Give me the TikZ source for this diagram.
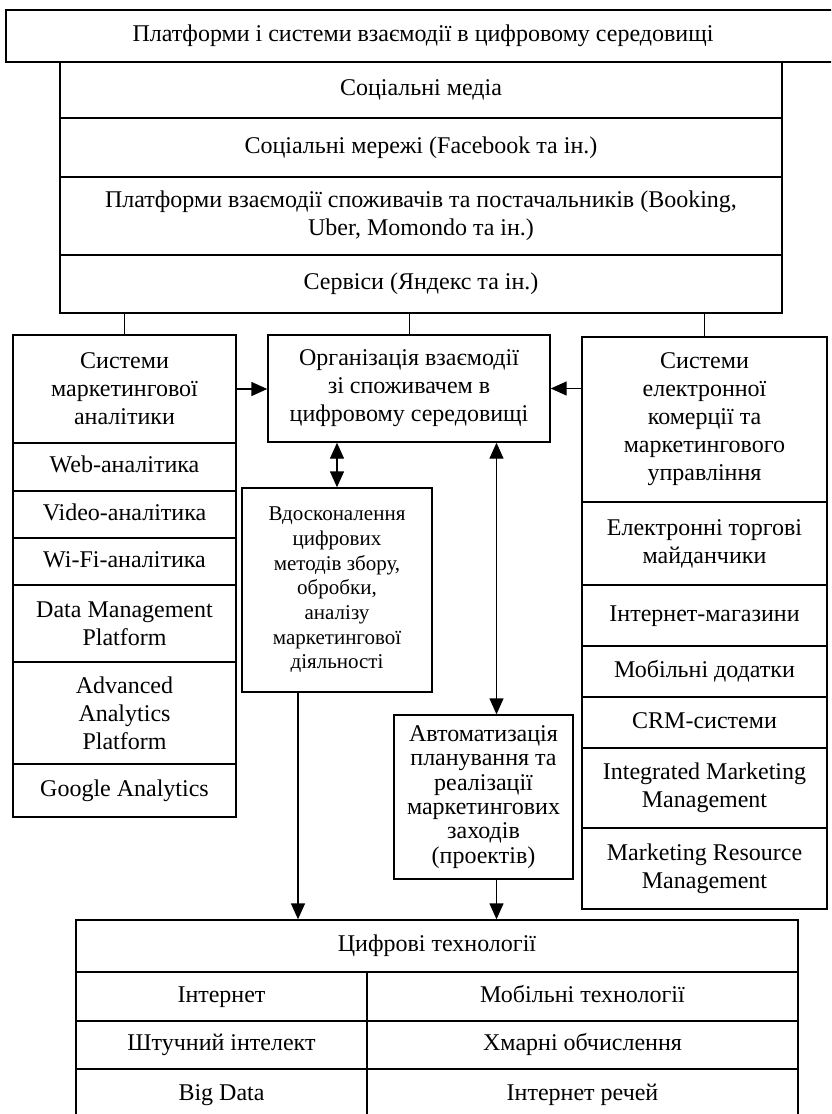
\documentclass[tikz,border=0pt]{standalone}
\usepackage{fontspec}
\setmainfont{Liberation Serif}
\usetikzlibrary{arrows.meta}

\begin{document}
\begin{tikzpicture}[
        x=1pt, y=-1pt,
        cell/.style={draw, line width=1.4pt, inner sep=0pt, align=center,
            font=\fontsize{24}{28}\selectfont},
        row/.style={cell, text height=17pt, text depth=6pt},
        small/.style={font=\fontsize{21}{24.7}\selectfont},
        tight/.style={font=\fontsize{24}{24.3}\selectfont},
        link/.style={line width=1.4pt},
        tick/.style={line width=0.9pt},
        >={Triangle[length=16pt,width=14pt]}
    ]
        \useasboundingbox (0,0) rectangle (831,1114);
        \clip (0,0) rectangle (831,1114);

        % Platforms and systems at the top
        \node[row, minimum width=834, minimum height=52] (plat) at (423,36) {Платформи і системи взаємодії в цифровому середовищі};
        \node[row, minimum width=722, minimum height=56] (sm) at (421,90) {Соціальні медіа};
        \node[row, minimum width=722, minimum height=59] (sn) at (421,147.5) {Соціальні мережі (Facebook та ін.)};
        \node[cell, minimum width=722, minimum height=78] (pl) at (421,216) {Платформи взаємодії споживачів та постачальників (Booking,\\Uber, Momondo та ін.)};
        \node[row, minimum width=722, minimum height=58] (serv) at (421,284) {Сервіси (Яндекс та ін.)};

        % Marketing analytics column
        \node[cell, minimum width=223, minimum height=108] (ma) at (124.5,389) {Системи\\маркетингової\\аналітики};
        \node[row, minimum width=223, minimum height=48] (web) at (124.5,467) {Web-аналітика};
        \node[row, minimum width=223, minimum height=47] (vid) at (124.5,514.5) {Video-аналітика};
        \node[row, minimum width=223, minimum height=47] (wifi) at (124.5,561.5) {Wi-Fi-аналітика};
        \node[cell, minimum width=223, minimum height=77] (dmp) at (124.5,623.5) {Data Management\\Platform};
        \node[cell, minimum width=223, minimum height=102] (aap) at (124.5,713) {Advanced\\Analytics\\Platform};
        \node[row, minimum width=223, minimum height=53] (ga) at (124.5,790.5) {Google Analytics};

        % Middle boxes
        \node[cell, minimum width=282, minimum height=107] (org) at (409,388.5) {Організація взаємодії\\зі споживачем в\\цифровому середовищі};
        \node[cell, small, minimum width=190, minimum height=204] (vd) at (337,590) {Вдосконалення\\цифрових\\методів збору,\\обробки,\\аналізу\\маркетингової\\діяльності};
        \node[cell, tight, minimum width=179, minimum height=164] (auto) at (483.5,797) {Автоматизація\\планування та\\реалізації\\маркетингових\\заходів\\(проектів)};

        % E-commerce column
        \node[cell, minimum width=245, minimum height=165] (ec) at (704.5,419.5) {Системи\\електронної\\комерції та\\маркетингового\\управління};
        \node[cell, minimum width=245, minimum height=83] (etm) at (704.5,543.5) {Електронні торгові\\майданчики};
        \node[row, minimum width=245, minimum height=61] (im) at (704.5,615.5) {Інтернет-магазини};
        \node[row, minimum width=245, minimum height=51] (md) at (704.5,671.5) {Мобільні додатки};
        \node[row, minimum width=245, minimum height=51] (crm) at (704.5,722.5) {CRM-системи};
        \node[cell, minimum width=245, minimum height=80] (imm) at (704.5,788) {Integrated Marketing\\Management};
        \node[cell, minimum width=245, minimum height=81] (mrm) at (704.5,868.5) {Marketing Resource\\Management};

        % Digital technologies at the bottom
        \node[row, minimum width=722, minimum height=52] (tech) at (437,946) {Цифрові технології};
        \node[row, minimum width=291, minimum height=49] (inet) at (221.5,996.5) {Інтернет};
        \node[row, minimum width=431, minimum height=49] (mob) at (582.5,996.5) {Мобільні технології};
        \node[row, minimum width=291, minimum height=48] (ai) at (221.5,1045) {Штучний інтелект};
        \node[row, minimum width=431, minimum height=48] (cloud) at (582.5,1045) {Хмарні обчислення};
        \node[row, minimum width=291, minimum height=51] (bd) at (221.5,1094.5) {Big Data};
        \node[row, minimum width=431, minimum height=51] (iot) at (582.5,1094.5) {Інтернет речей};

        % Offsets of the vertical connectors
        \coordinate (autoin) at ([xshift=13]auto.north);
        \coordinate (autoout) at ([xshift=13]auto.south);
        \coordinate (vdout) at ([xshift=-39]vd.south);

        % Ticks under the platforms
        \draw[tick] (serv.south -| ma.north) -- (ma.north);
        \draw[tick] (serv.south -| org.north) -- (org.north);
        \draw[tick] (serv.south -| ec.north) -- (ec.north);

        % Arrows
        \draw[link, ->] (ma.east) -- (ma.east -| org.west);
        \draw[link, ->] (org.east -| ec.west) -- (org.east);
        \draw[link, <->] (org.south -| vd.north) -- (vd.north);
        \draw[link, <->] (autoin |- org.south) -- (autoin);
        \draw[link, ->] (vdout) -- (vdout |- tech.north);
        \draw[link, ->] (autoout) -- (autoout |- tech.north);
    \end{tikzpicture}
\end{document}
